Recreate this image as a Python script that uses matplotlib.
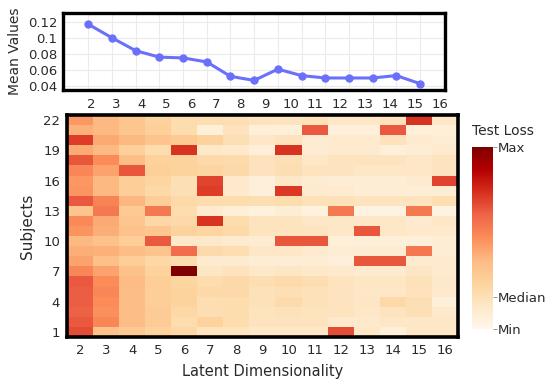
import numpy as np
import matplotlib
matplotlib.use("Agg")
import matplotlib.pyplot as plt

# latent dimensionality (columns) and subjects (rows)
latent_dims = list(range(2, 17))
subjects = list(range(1, 23))

# mean test loss per latent dimensionality (top panel)
mean_values = [0.117, 0.100, 0.084, 0.076, 0.075, 0.070, 0.052, 0.047,
               0.061, 0.053, 0.050, 0.050, 0.050, 0.053, 0.043]

# normalised test loss per subject (row = subject 1..22, col = dim 2..16)
loss_levels = [
    [0.68, 0.34, 0.31, 0.26, 0.23, 0.15, 0.15, 0.13, 0.13, 0.13, 0.68, 0.13, 0.07, 0.13, 0.13],
    [0.65, 0.52, 0.36, 0.29, 0.20, 0.26, 0.20, 0.15, 0.15, 0.15, 0.11, 0.11, 0.13, 0.13, 0.13],
    [0.63, 0.49, 0.36, 0.29, 0.23, 0.19, 0.20, 0.15, 0.17, 0.15, 0.15, 0.13, 0.15, 0.18, 0.11],
    [0.64, 0.50, 0.36, 0.28, 0.25, 0.19, 0.20, 0.17, 0.21, 0.17, 0.15, 0.14, 0.22, 0.18, 0.07],
    [0.64, 0.52, 0.36, 0.28, 0.25, 0.22, 0.22, 0.17, 0.18, 0.17, 0.15, 0.13, 0.13, 0.16, 0.11],
    [0.65, 0.50, 0.37, 0.28, 0.24, 0.20, 0.22, 0.19, 0.21, 0.19, 0.15, 0.14, 0.14, 0.17, 0.12],
    [0.52, 0.44, 0.34, 0.26, 1.00, 0.14, 0.16, 0.12, 0.14, 0.12, 0.11, 0.10, 0.10, 0.14, 0.10],
    [0.44, 0.35, 0.28, 0.23, 0.20, 0.10, 0.10, 0.08, 0.08, 0.08, 0.06, 0.66, 0.66, 0.10, 0.10],
    [0.41, 0.40, 0.36, 0.33, 0.60, 0.21, 0.19, 0.13, 0.13, 0.10, 0.08, 0.09, 0.09, 0.57, 0.08],
    [0.38, 0.34, 0.28, 0.65, 0.12, 0.12, 0.10, 0.09, 0.66, 0.66, 0.07, 0.07, 0.07, 0.07, 0.08],
    [0.48, 0.41, 0.34, 0.32, 0.25, 0.24, 0.22, 0.15, 0.15, 0.15, 0.13, 0.66, 0.13, 0.11, 0.11],
    [0.51, 0.42, 0.32, 0.23, 0.22, 0.74, 0.20, 0.15, 0.15, 0.13, 0.13, 0.13, 0.13, 0.10, 0.13],
    [0.33, 0.56, 0.30, 0.56, 0.20, 0.10, 0.07, 0.05, 0.08, 0.05, 0.56, 0.04, 0.04, 0.56, 0.04],
    [0.65, 0.53, 0.39, 0.28, 0.22, 0.20, 0.20, 0.19, 0.20, 0.17, 0.17, 0.15, 0.15, 0.15, 0.19],
    [0.48, 0.38, 0.28, 0.22, 0.18, 0.72, 0.11, 0.06, 0.73, 0.10, 0.10, 0.08, 0.08, 0.08, 0.08],
    [0.47, 0.38, 0.28, 0.24, 0.18, 0.70, 0.11, 0.07, 0.13, 0.09, 0.08, 0.08, 0.08, 0.10, 0.70],
    [0.52, 0.44, 0.66, 0.27, 0.25, 0.24, 0.22, 0.16, 0.19, 0.15, 0.15, 0.13, 0.13, 0.13, 0.15],
    [0.66, 0.50, 0.36, 0.26, 0.25, 0.22, 0.21, 0.16, 0.18, 0.13, 0.15, 0.15, 0.15, 0.13, 0.15],
    [0.42, 0.38, 0.27, 0.20, 0.74, 0.12, 0.11, 0.07, 0.74, 0.09, 0.10, 0.10, 0.07, 0.08, 0.10],
    [0.72, 0.42, 0.38, 0.33, 0.30, 0.26, 0.18, 0.13, 0.16, 0.09, 0.10, 0.10, 0.16, 0.10, 0.08],
    [0.40, 0.38, 0.32, 0.27, 0.20, 0.07, 0.16, 0.07, 0.07, 0.65, 0.06, 0.06, 0.65, 0.07, 0.07],
    [0.47, 0.38, 0.32, 0.25, 0.20, 0.19, 0.18, 0.16, 0.15, 0.17, 0.13, 0.13, 0.16, 0.74, 0.13],
]

subject_ticks = [1, 4, 7, 10, 13, 16, 19, 22]
mean_ticks = [0.04, 0.06, 0.08, 0.1, 0.12]
mean_ticklabels = ["0.04", "0.06", "0.08", "0.1", "0.12"]

plt.rcParams['font.family'] = 'DejaVu Sans'
TXT = '#2a2a2a'

fig = plt.figure(figsize=(5.47, 3.86), dpi=100, facecolor='white')

# ---- top: mean values line ----
ax_top = fig.add_axes([0.1152, 0.7668, 0.698, 0.1995])
ax_top.plot(latent_dims, mean_values, color='#6b70fb', lw=2.2, marker='o', ms=5,
            zorder=3, clip_on=False)
ax_top.set_xlim(0.93, 17.05)
ax_top.set_ylim(0.035, 0.131)
ax_top.set_xticks(latent_dims)
ax_top.set_xticklabels([])
ax_top.set_yticks(mean_ticks)
ax_top.set_yticklabels(mean_ticklabels)
ax_top.grid(True, color='#ebebeb', lw=0.8)
ax_top.tick_params(length=0, labelsize=9.5, labelcolor=TXT, pad=4)
ax_top.set_ylabel('Mean Values', fontsize=10, color=TXT, labelpad=4)
for s in ax_top.spines.values():
    s.set_linewidth(2.4)
    s.set_color('black')

# shifted category labels under the top panel
off, step = 2.127, 1.0512
sec = ax_top.secondary_xaxis('bottom', functions=(lambda x: (x - off) / step + 2,
                                                  lambda k: (k - 2) * step + off))
sec.set_xticks(latent_dims)
sec.tick_params(length=0, labelsize=9.5, labelcolor=TXT, pad=6)
sec.spines['bottom'].set_visible(False)

# ---- heatmap ----
ax = fig.add_axes([0.1225, 0.1269, 0.7148, 0.575])
z = np.array(loss_levels)
im = ax.imshow(z, cmap='OrRd', vmin=z.min() * 0, vmax=z.max(), origin='lower',
               aspect='auto', interpolation='nearest',
               extent=[latent_dims[0] - 0.5, latent_dims[-1] + 0.5,
                       subjects[0] - 0.5, subjects[-1] + 0.5])
ax.set_xticks(latent_dims)
ax.set_yticks(subject_ticks)
ax.tick_params(length=0, labelsize=9.5, labelcolor=TXT, pad=5)
ax.set_xlabel('Latent Dimensionality', fontsize=10.5, color=TXT, labelpad=5)
ax.set_ylabel('Subjects', fontsize=11, color=TXT, labelpad=6)
for s in ax.spines.values():
    s.set_linewidth(2.6)
    s.set_color('black')

# ---- colorbar ----
cax = fig.add_axes([0.8623, 0.1469, 0.0384, 0.473])
cb = fig.colorbar(im, cax=cax)
cb.outline.set_visible(False)
med = float(np.median(z))
cb.set_ticks([0, med, z.max()])
cb.set_ticklabels(['Min', 'Median', 'Max'])
cax.tick_params(length=3, width=0.6, color='#888888', labelsize=9.5,
                labelcolor=TXT, pad=1)
fig.text(0.862, 1 - 131 / 386, 'Test Loss', fontsize=10, color=TXT,
         ha='left', va='center')

fig.savefig('out.png', dpi=100, facecolor='white')
